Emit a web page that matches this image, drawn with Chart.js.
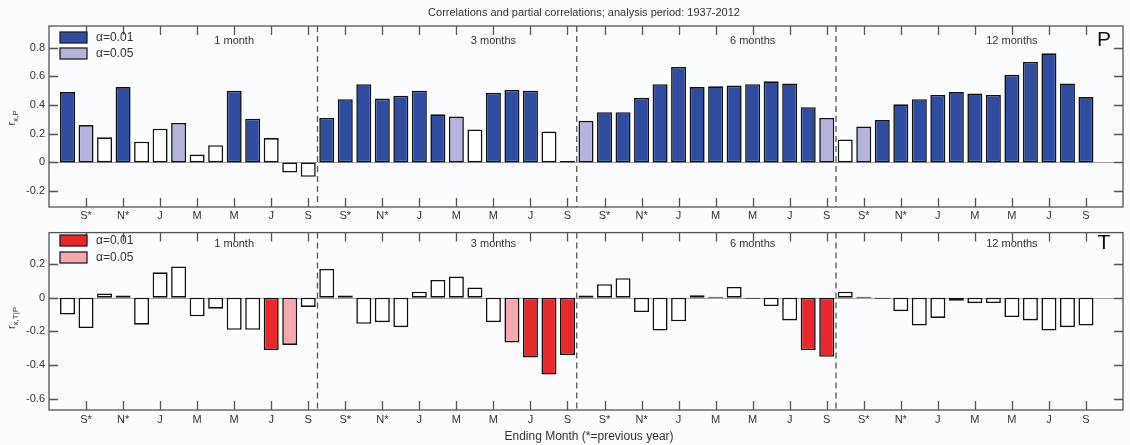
<!DOCTYPE html>
<html><head><meta charset="utf-8">
<script src="https://cdn.jsdelivr.net/npm/chart.js@4.4.1/dist/chart.umd.min.js"></script>
<style>
html,body{margin:0;padding:0;background:#fafcfe;}
#wrap{position:relative;width:1130px;height:445px;overflow:hidden;}
canvas{position:absolute;left:0;}
#c1{top:0}
#c2{top:222px}
</style></head><body>
<div id="wrap">
<canvas id="c1" width="1130" height="222"></canvas>
<canvas id="c2" width="1130" height="223"></canvas>
</div>
<script>
// ---------- data ----------
const titleText = 'Correlations and partial correlations; analysis period: 1937-2012';
const xAxisTitle = 'Ending Month (*=previous year)';
const groupNames = ['1 month', '3 months', '6 months', '12 months'];
const monthTickLabels = ['S*', 'N*', 'J', 'M', 'M', 'J', 'S'];
const legendLabels = ['\u03b1=0.01', '\u03b1=0.05'];

// correlation with precipitation (P), 4 groups x 14 ending months (Aug* .. Sep)
const pValues = [
  0.49, 0.26, 0.175, 0.525, 0.145, 0.235, 0.275, 0.055, 0.12, 0.50, 0.305, 0.17, -0.07, -0.10,
  0.31, 0.44, 0.545, 0.445, 0.465, 0.50, 0.335, 0.32, 0.23, 0.485, 0.505, 0.50, 0.215, 0.01,
  0.29, 0.35, 0.35, 0.45, 0.545, 0.665, 0.525, 0.53, 0.535, 0.545, 0.565, 0.55, 0.385, 0.31,
  0.16, 0.25, 0.295, 0.405, 0.44, 0.47, 0.49, 0.48, 0.47, 0.61, 0.70, 0.76, 0.55, 0.455
];
// significance: 2 = alpha 0.01, 1 = alpha 0.05, 0 = not significant
const pSig = [
  2, 1, 0, 2, 0, 0, 1, 0, 0, 2, 2, 0, 0, 0,
  2, 2, 2, 2, 2, 2, 2, 1, 0, 2, 2, 2, 0, 0,
  1, 2, 2, 2, 2, 2, 2, 2, 2, 2, 2, 2, 2, 1,
  0, 1, 2, 2, 2, 2, 2, 2, 2, 2, 2, 2, 2, 2
];
// partial correlation with temperature (T)
const tValues = [
  -0.10, -0.18, 0.025, 0.012, -0.16, 0.15, 0.185, -0.11, -0.065, -0.19, -0.19, -0.31, -0.28, -0.055,
  0.17, 0.013, -0.155, -0.145, -0.175, 0.035, 0.105, 0.125, 0.06, -0.145, -0.265, -0.355, -0.455, -0.34,
  0.013, 0.08, 0.115, -0.085, -0.195, -0.14, 0.014, 0.006, 0.063, -0.006, -0.05, -0.135, -0.31, -0.35,
  0.035, 0.006, -0.006, -0.08, -0.165, -0.12, -0.018, -0.033, -0.032, -0.115, -0.135, -0.195, -0.175, -0.165
];
const tSig = [
  0, 0, 0, 0, 0, 0, 0, 0, 0, 0, 0, 2, 1, 0,
  0, 0, 0, 0, 0, 0, 0, 0, 0, 0, 1, 2, 2, 2,
  0, 0, 0, 0, 0, 0, 0, 0, 0, 0, 0, 0, 2, 2,
  0, 0, 0, 0, 0, 0, 0, 0, 0, 0, 0, 0, 0, 0
];
const pTicks = [-0.2, 0, 0.2, 0.4, 0.6, 0.8];
const tTicks = [-0.6, -0.4, -0.2, 0, 0.2];

// ---------- helpers ----------
const MONTHS_PER_GROUP = 14;
const FONT = '"Liberation Sans", Arial, sans-serif';
const TXT = '#333';
const FRAME = '#555';

function xTickValues() {
  const out = [];
  for (let g = 0; g < groupNames.length; g++)
    for (let k = 0; k < monthTickLabels.length; k++) out.push(g * MONTHS_PER_GROUP + 1 + 2 * k);
  return out;
}

function makeChart(canvas, cfg) {
  const colors = cfg.colors;
  const data = cfg.values.map((v, i) => ({ x: i, y: v }));
  const bg = cfg.sig.map(s => s === 2 ? colors[0] : (s === 1 ? colors[1] : '#ffffff'));

  const deco = {
    id: 'deco',
    beforeDatasetsDraw(chart) {
      const { ctx, chartArea: a, scales: { x, y } } = chart;
      ctx.save();
      ctx.strokeStyle = '#a0a0a0';
      ctx.lineWidth = 1;
      const y0 = Math.round(y.getPixelForValue(0)) + 0.5;
      ctx.beginPath(); ctx.moveTo(a.left, y0); ctx.lineTo(a.right, y0); ctx.stroke();
      ctx.strokeStyle = FRAME;
      ctx.lineWidth = 1.3;
      ctx.setLineDash([6, 4]);
      for (let g = 1; g < groupNames.length; g++) {
        const px = x.getPixelForValue(g * MONTHS_PER_GROUP - 0.5);
        ctx.beginPath(); ctx.moveTo(px, a.top); ctx.lineTo(px, a.bottom); ctx.stroke();
      }
      ctx.restore();
    },
    afterDraw(chart) {
      const { ctx, chartArea: a, scales: { x, y } } = chart;
      ctx.save();
      ctx.strokeStyle = FRAME;
      ctx.lineWidth = 1.3;
      ctx.strokeRect(a.left, a.top, a.right - a.left, a.bottom - a.top);
      const tl = 9;
      ctx.beginPath();
      xTickValues().forEach(v => {
        const px = Math.round(x.getPixelForValue(v)) + 0.5;
        ctx.moveTo(px, a.top); ctx.lineTo(px, a.top + tl);
        ctx.moveTo(px, a.bottom); ctx.lineTo(px, a.bottom - tl);
      });
      cfg.yTicks.forEach(v => {
        const py = Math.round(y.getPixelForValue(v)) + 0.5;
        ctx.moveTo(a.left, py); ctx.lineTo(a.left + tl, py);
        ctx.moveTo(a.right, py); ctx.lineTo(a.right - tl, py);
      });
      ctx.stroke();
      cfg.legendY.forEach((ly, i) => {
        ctx.fillStyle = colors[i];
        ctx.fillRect(60, ly, 27, 11);
        ctx.strokeStyle = '#222';
        ctx.lineWidth = 1.3;
        ctx.strokeRect(60, ly, 27, 11);
        ctx.fillStyle = TXT;
        ctx.font = '12px ' + FONT;
        ctx.textAlign = 'left';
        ctx.textBaseline = 'middle';
        ctx.fillText(legendLabels[i], 96, ly + 6);
      });
      ctx.font = '11px ' + FONT;
      ctx.textAlign = 'center';
      ctx.textBaseline = 'middle';
      ctx.fillStyle = TXT;
      groupNames.forEach((name, g) => {
        ctx.fillText(name, x.getPixelForValue(g * MONTHS_PER_GROUP + 9), cfg.groupLabelY);
      });
      ctx.font = '21px ' + FONT;
      ctx.fillStyle = '#111';
      ctx.fillText(cfg.letter, 1104, cfg.letterY);
      ctx.save();
      ctx.translate(cfg.yTitle[0], cfg.yTitle[1]);
      ctx.rotate(-Math.PI / 2);
      ctx.textAlign = 'left';
      ctx.textBaseline = 'alphabetic';
      ctx.fillStyle = TXT;
      ctx.font = '11px ' + FONT;
      const rw = ctx.measureText('r').width;
      ctx.font = '8px ' + FONT;
      const sw = ctx.measureText(cfg.yTitleSub).width;
      const start = -(rw + sw) / 2;
      ctx.font = '11px ' + FONT;
      ctx.fillText('r', start, 0);
      ctx.font = '8px ' + FONT;
      ctx.fillText(cfg.yTitleSub, start + rw, 3);
      ctx.restore();
      (cfg.texts || []).forEach(t => {
        ctx.font = t.size + 'px ' + FONT;
        ctx.fillStyle = TXT;
        ctx.textAlign = 'center';
        ctx.textBaseline = 'middle';
        ctx.fillText(t.text, t.x, t.y);
      });
      ctx.restore();
    }
  };

  return new Chart(canvas, {
    type: 'bar',
    data: {
      datasets: [{
        data: data,
        backgroundColor: bg,
        borderColor: '#111',
        borderWidth: 1.6,
        borderSkipped: false,
        barPercentage: 0.81,
        categoryPercentage: 1.0
      }]
    },
    options: {
      responsive: false,
      animation: false,
      devicePixelRatio: 1,
      layout: { padding: { top: cfg.padTop, right: 7, left: 0, bottom: 0 } },
      plugins: { legend: { display: false }, tooltip: { enabled: false }, title: { display: false } },
      scales: {
        x: {
          type: 'linear',
          offset: false,
          min: -1, max: 57,
          grid: { display: false, drawTicks: false, offset: false },
          border: { display: false },
          afterFit(s) { s.height = cfg.xAxisHeight; s.paddingLeft = 0; s.paddingRight = 0; },
          afterBuildTicks(s) { s.ticks = xTickValues().map(v => ({ value: v })); },
          ticks: {
            autoSkip: false, maxRotation: 0, padding: cfg.xTickPad,
            color: TXT, font: { family: FONT, size: 11 },
            callback: v => monthTickLabels[((v % MONTHS_PER_GROUP) - 1) / 2]
          }
        },
        y: {
          min: cfg.yMin, max: cfg.yMax,
          grid: { display: false, drawTicks: false },
          border: { display: false },
          afterFit(s) { s.width = 49; },
          afterBuildTicks(s) { s.ticks = cfg.yTicks.map(v => ({ value: v })); },
          ticks: {
            padding: 4, color: TXT, font: { family: FONT, size: 11 },
            callback: v => (Math.abs(v) < 1e-9 ? '0' : v.toFixed(1))
          }
        }
      }
    },
    plugins: [deco]
  });
}

makeChart(document.getElementById('c1'), {
  values: pValues, sig: pSig, colors: ['#2f4ca0', '#b4b4dc'],
  yMin: -0.31, yMax: 0.95, yTicks: pTicks,
  padTop: 26, xAxisHeight: 15, xTickPad: 2,
  legendY: [32, 48], groupLabelY: 41, letter: 'P', letterY: 40,
  yTitle: [15, 118], yTitleSub: 'x,P',
  texts: [{ text: titleText, x: 584, y: 13, size: 11 }]
});

makeChart(document.getElementById('c2'), {
  values: tValues, sig: tSig, colors: ['#e8282c', '#f4a9b0'],
  yMin: -0.665, yMax: 0.385, yTicks: tTicks,
  padTop: 7, xAxisHeight: 35, xTickPad: 3,
  legendY: [13, 30], groupLabelY: 22, letter: 'T', letterY: 21,
  yTitle: [15, 96], yTitleSub: 'x,T|P',
  texts: [{ text: xAxisTitle, x: 589, y: 215, size: 12 }]
});
</script>
</body></html>
